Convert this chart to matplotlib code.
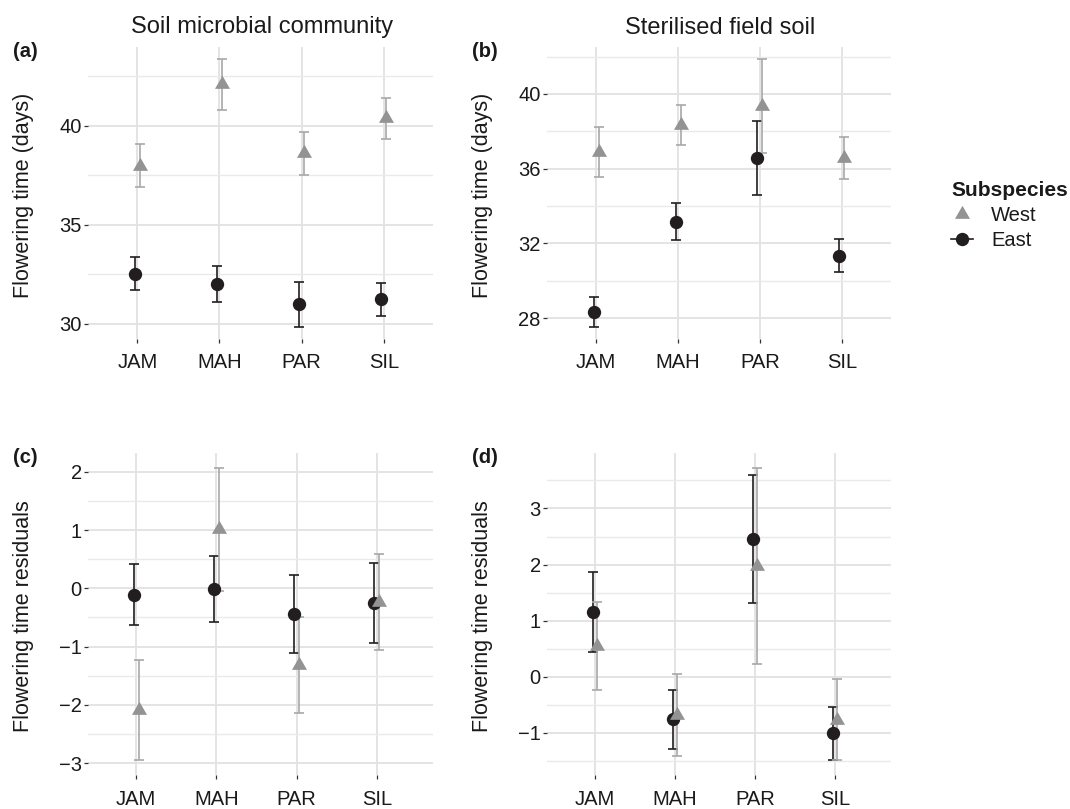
#!/usr/bin/env python3
import matplotlib.pyplot as plt
from matplotlib.lines import Line2D
from matplotlib.ticker import MultipleLocator

plt.rcParams['font.family'] = ['Liberation Sans', 'DejaVu Sans']

sites = ['JAM', 'MAH', 'PAR', 'SIL']

# (a) Soil microbial community, flowering time (days)
a_west_mean = [38.00, 42.10, 38.62, 40.39]
a_west_lo = [36.90, 40.81, 37.53, 39.34]
a_west_hi = [39.09, 43.40, 39.71, 41.43]
a_east_mean = [32.54, 32.02, 31.00, 31.25]
a_east_lo = [31.70, 31.13, 29.85, 30.42]
a_east_hi = [33.38, 32.93, 32.14, 32.09]

# (b) Sterilised field soil, flowering time (days)
b_west_mean = [36.88, 38.36, 39.38, 36.55]
b_west_lo = [35.58, 37.29, 36.86, 35.44]
b_west_hi = [38.24, 39.43, 41.89, 37.68]
b_east_mean = [28.34, 33.14, 36.56, 31.35]
b_east_lo = [27.53, 32.16, 34.58, 30.49]
b_east_hi = [29.16, 34.14, 38.57, 32.22]

# (c) Soil microbial community, residuals
c_west_mean = [-2.09, 1.01, -1.32, -0.24]
c_west_lo = [-2.94, -0.05, -2.14, -1.05]
c_west_hi = [-1.23, 2.07, -0.50, 0.58]
c_east_mean = [-0.11, -0.02, -0.44, -0.25]
c_east_lo = [-0.63, -0.58, -1.11, -0.94]
c_east_hi = [0.41, 0.55, 0.23, 0.44]

# (d) Sterilised field soil, residuals
d_west_mean = [0.55, -0.69, 1.97, -0.77]
d_west_lo = [-0.23, -1.42, 0.22, -1.49]
d_west_hi = [1.34, 0.05, 3.73, -0.05]
d_east_mean = [1.16, -0.76, 2.46, -1.01]
d_east_lo = [0.44, -1.30, 1.32, -1.49]
d_east_hi = [1.87, -0.23, 3.60, -0.54]

black = '#221e1f'
grey_pt = '#939393'
grey_bar = '#a8a8a8'
txt = '#1a1a1a'
tri = [(0, 1), (-0.866, -0.5), (0.866, -0.5)]  # centroid-centred triangle like ggplot
dodge = 0.03

fig = plt.figure(figsize=(10.7, 8.09), dpi=100)

W = 1070.0
H = 809.0


def make_ax(x0, x1, y0, y1):
    return fig.add_axes([x0 / W, 1 - y1 / H, (x1 - x0) / W, (y1 - y0) / H])


panels = [
    # axes box (px), ylim, xlim, major step, data, x tick pad
    dict(box=(88, 433, 47, 339), ylim=(29.24, 43.99), xlim=(0.4, 4.6), step=5,
         west=(a_west_mean, a_west_lo, a_west_hi), east=(a_east_mean, a_east_lo, a_east_hi),
         ylabel='Flowering time (days)', tag='(a)', xpad=7),
    dict(box=(547, 891, 47, 339), ylim=(26.89, 42.51), xlim=(0.4, 4.6), step=4,
         west=(b_west_mean, b_west_lo, b_west_hi), east=(b_east_mean, b_east_lo, b_east_hi),
         ylabel='Flowering time (days)', tag='(b)', xpad=7),
    dict(box=(88, 433, 453, 775), ylim=(-3.20, 2.32), xlim=(0.4, 4.7), step=1,
         west=(c_west_mean, c_west_lo, c_west_hi), east=(c_east_mean, c_east_lo, c_east_hi),
         ylabel='Flowering time residuals', tag='(c)', xpad=8),
    dict(box=(547, 891, 453, 775), ylim=(-1.755, 3.99), xlim=(0.4, 4.7), step=1,
         west=(d_west_mean, d_west_lo, d_west_hi), east=(d_east_mean, d_east_lo, d_east_hi),
         ylabel='Flowering time residuals', tag='(d)', xpad=8),
]

xpos = list(range(1, len(sites) + 1))

for p in panels:
    x0, x1, y0, y1 = p['box']
    ax = make_ax(x0, x1, y0, y1)
    ax.set_xlim(p['xlim'])
    ax.set_ylim(p['ylim'])

    xe = [x - dodge for x in xpos]
    xw = [x + dodge for x in xpos]
    em, elo, ehi = p['east']
    wm, wlo, whi = p['west']
    ax.errorbar(xe, em, yerr=[[m - l for m, l in zip(em, elo)], [h - m for m, h in zip(em, ehi)]],
                fmt='none', ecolor=black, elinewidth=1.2, capsize=3.5, capthick=1.2, zorder=3)
    ax.errorbar(xw, wm, yerr=[[m - l for m, l in zip(wm, wlo)], [h - m for m, h in zip(wm, whi)]],
                fmt='none', ecolor=grey_bar, elinewidth=1.2, capsize=3.5, capthick=1.2, zorder=3)
    ax.plot(xe, em, 'o', color=black, ms=9.6, mew=0, zorder=4)
    ax.plot(xw, wm, linestyle='none', marker=tri, color=grey_pt, ms=12.5, mew=0, zorder=5)

    ax.set_xticks(xpos)
    ax.set_xticklabels(sites)
    ax.yaxis.set_major_locator(MultipleLocator(p['step']))
    ax.yaxis.set_minor_locator(MultipleLocator(p['step'] / 2))
    ax.grid(True, which='major', color='#e2e2e2', linewidth=1.3)
    ax.grid(True, which='minor', axis='y', color='#eaeaea', linewidth=1.0)
    ax.set_axisbelow(True)
    for s in ax.spines.values():
        s.set_visible(False)
    ax.tick_params(axis='both', which='major', length=3, width=0.9, color='#333333',
                   labelsize=14.5, labelcolor=txt)
    ax.tick_params(axis='y', which='major', pad=1.5)
    ax.tick_params(axis='x', which='major', pad=p['xpad'])
    ax.tick_params(which='minor', length=0)
    ax.yaxis.set_major_formatter(plt.FuncFormatter(lambda v, _: f'{v:g}'.replace('-', '\u2212')))

    # y label and panel tag
    fig.text((x0 - 64) / W, 1 - ((y0 + y1) / 2 + 2) / H, p['ylabel'], rotation=90,
             ha='center', va='center', fontsize=15.5, color=txt)
    fig.text((x0 - 75) / W, 1 - (y0 + 10) / H, p['tag'], ha='left', va='baseline',
             fontsize=14.5, fontweight='bold', color=txt)

# column titles
fig.text(262 / W, 1 - 33.5 / H, 'Soil microbial community', ha='center', va='baseline',
         fontsize=17, color=txt)
fig.text(720 / W, 1 - 33.5 / H, 'Sterilised field soil', ha='center', va='baseline',
         fontsize=17, color=txt)

# legend
handles = [
    Line2D([], [], linestyle='none', marker=tri, ms=12.5, color=grey_pt, mew=0),
    Line2D([], [], linestyle='-', color=black, lw=1.2, marker='o', ms=9.6, mew=0),
]
leg = fig.legend(handles, ['West', 'East'], title='Subspecies', loc='upper left',
                 bbox_to_anchor=(951 / W, 1 - 181 / H), frameon=False, alignment='left',
                 fontsize=14.5, title_fontproperties={'weight': 'bold', 'size': 15},
                 handlelength=1.1, handletextpad=0.9, labelspacing=0.3, borderpad=0,
                 borderaxespad=0)
for t in leg.get_texts():
    t.set_color(txt)
leg.get_title().set_color(txt)

fig.savefig('out.png', dpi=100)
